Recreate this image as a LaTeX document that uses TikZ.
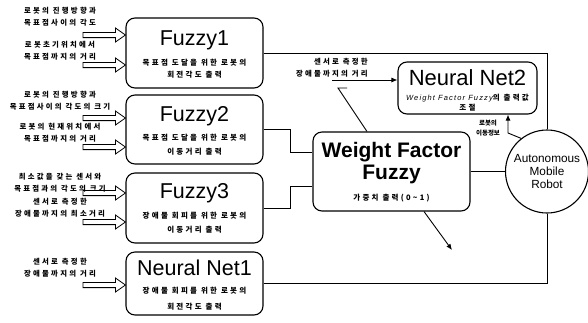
\documentclass[tikz,border=0pt]{standalone}
\usepackage{fontspec}
\setmainfont{Liberation Sans}
\newfontfamily\kr{Noto Sans CJK KR}[LetterSpace=30]
\newfontfamily\krtight{Noto Sans CJK KR}
\newfontfamily\spaced{Liberation Sans}[LetterSpace=15]
\usetikzlibrary{arrows.meta,calc}

\tikzset{
  box/.style={draw, line width=1.1pt, rounded corners=9pt, minimum width=137pt, inner sep=0pt},
  ttl/.style={font=\fontsize{21.5}{21.5}\selectfont, anchor=base, inner sep=0pt},
  bttl/.style={font=\bfseries\fontsize{21}{21}\selectfont, anchor=base, inner sep=0pt},
  sub/.style={font=\kr\bfseries\fontsize{7.5}{7.5}\selectfont, anchor=base, inner sep=0pt},
  lbl/.style={font=\kr\bfseries\fontsize{7.4}{12}\selectfont, align=center, inner sep=0pt},
  % hollow block arrow drawn between two points on one horizontal line
  hollow/.style={line width=0.8pt, to path={
    let \p1=(\tikztostart), \p2=(\tikztotarget) in
    (\x1,\y1+2.6pt) -- (\x2-10pt,\y1+2.6pt) -- (\x2-10pt,\y1+7pt) -- (\x2,\y1)
    -- (\x2-10pt,\y1-7pt) -- (\x2-10pt,\y1-2.6pt) -- (\x1,\y1-2.6pt) -- cycle}},
  link/.style={line width=0.9pt},
  feed/.style={line width=0.9pt, -{Latex[length=6pt,width=5pt]}},
}

\begin{document}
\begin{tikzpicture}[x=1pt,y=-1pt]
\useasboundingbox (0,0) rectangle (588,322);

% controller blocks
\node[box, minimum height=70pt] (f1) at (194.5,53) {};
\node[box, minimum height=69pt] (f2) at (194.5,129.5) {};
\node[box, minimum height=70pt] (f3) at (194.5,208) {};
\node[box, minimum height=63pt] (nn1) at (194.5,283.5) {};
\node[box, minimum width=157pt, minimum height=79pt] (wff) at (391.5,171.5) {};
\node[box, minimum width=139pt, minimum height=52pt] (nn2) at (467.5,88) {};
\node[draw, line width=1.1pt, circle, minimum size=83pt, inner sep=0pt, align=center,
      font=\fontsize{11.8}{13}\selectfont] (robot) at (547,171.5)
      {Autonomous\\Mobile\\Robot};

% block texts
\node[ttl] (f1t) at (194.5,45) {Fuzzy1};
\node[sub] (f1s1) at (194.5,65) {목표점 도달을 위한 로봇의};
\node[sub] (f1s2) at (194.5,77) {회전각도 출력};

\node[ttl] (f2t) at (194.5,121) {Fuzzy2};
\node[sub] (f2s1) at (194.5,140) {목표점 도달을 위한 로봇의};
\node[sub] (f2s2) at (194.5,154) {이동거리 출력};

\node[ttl] (f3t) at (194.5,198) {Fuzzy3};
\node[sub] (f3s1) at (194.5,218) {장애물 회피를 위한 로봇의};
\node[sub] (f3s2) at (194.5,232) {이동거리 출력};

\node[ttl] (nn1t) at (194.5,275) {Neural Net1};
\node[sub] (nn1s1) at (194.5,293) {장애물 회피를 위한 로봇의};
\node[sub] (nn1s2) at (194.5,309) {회전각도 출력};

\node[bttl] (wfft1) at (391.5,157) {Weight Factor};
\node[bttl] (wfft2) at (391.5,179) {Fuzzy};
\node[sub] (wffs) at (391.5,200) {가중치 출력(0\textasciitilde1)};

\node[ttl, font=\fontsize{22}{22}\selectfont] (nn2t) at (467.5,85) {Neural Net2};
\node[anchor=base, inner sep=0pt, font=\fontsize{7.5}{7.5}\selectfont] (nn2s1) at (467.5,100)
  {{\spaced\itshape Weight Factor Fuzzy}{\kr\bfseries 의 출력값}};
\node[sub] (nn2s2) at (467.5,110) {조절};

% input labels
\node[lbl] (l1) at (60,16.5) {로봇의 진행방향과\\목표점사이의 각도};
\node[lbl] (l2) at (60,51) {로봇초기위치에서\\목표점까지의 거리};
\node[lbl] (l3) at (60,101) {로봇의 진행방향과\\목표점사이의 각도의 크기};
\node[lbl] (l4) at (60,133) {로봇의 현재위치에서\\목표점까지의 거리};
\node[lbl] (l5) at (60,183) {최소값을 갖는 센서와\\목표점과의 각도의 크기};
\node[lbl] (l6) at (60,208) {센서로 측정한\\장애물까지의 최소거리};
\node[lbl] (l7) at (60,267.5) {센서로 측정한\\장애물까지의 거리};

% tails of the hollow input arrows
\coordinate (t1) at (83,35);
\coordinate (t2) at (83,65);
\coordinate (t3) at (83,118);
\coordinate (t4) at (83,147);
\coordinate (t5) at (83,193);
\coordinate (t6) at (83,222);
\coordinate (t7) at (83,285);
\draw[hollow] (t1) to (t1 -| f1.west);
\draw[hollow] (t2) to (t2 -| f1.west);
\draw[hollow] (t3) to (t3 -| f2.west);
\draw[hollow] (t4) to (t4 -| f2.west);
\draw[hollow] (t5) to (t5 -| f3.west);
\draw[hollow] (t6) to (t6 -| f3.west);
\draw[hollow] (t7) to (t7 -| nn1.west);

% sensor input of Neural Net2
\node[lbl, align=right, anchor=east] (l8) at (368,68) {센서로 측정한\\장애물까지의 거리};
\coordinate (s0) at (332,80);
\draw[feed] (s0) -- (s0 -| nn2.west);

% robot motion feedback
\node[font=\krtight\bfseries\fontsize{6.5}{10}\selectfont, align=center, inner sep=0pt] (l9) at (488,128) {로봇의\\이동정보};
\coordinate (k) at (508,133);
\draw[feed] (robot.128) -- (k) -- (k |- nn2.south);

% junction points of the wiring
\coordinate (j2) at (290,152);
\coordinate (j3) at (290,186);
\coordinate (d0) at (338,88);
\coordinate (d1) at (367,0);
\coordinate (o0) at (424,0);
\coordinate (o1) at (452,250);

\draw[link] (f1.east) -- (f1.east -| robot.north) -- (robot.north);
\draw[link] (nn1.east) -- (nn1.east -| robot.south) -- (robot.south);
\draw[link] (f2.east) -- (f2.east -| j2) -- (j2) -- (j2 -| wff.west);
\draw[link] (f3.east) -- (f3.east -| j3) -- (j3) -- (j3 -| wff.west);
\draw[link] (wff.east) -- (robot.west);
\draw[link] ([xshift=9pt]d0) -- (d0) -- (d1 |- wff.north);
\draw[feed] (o0 |- wff.south) -- (o1);
\end{tikzpicture}
\end{document}
